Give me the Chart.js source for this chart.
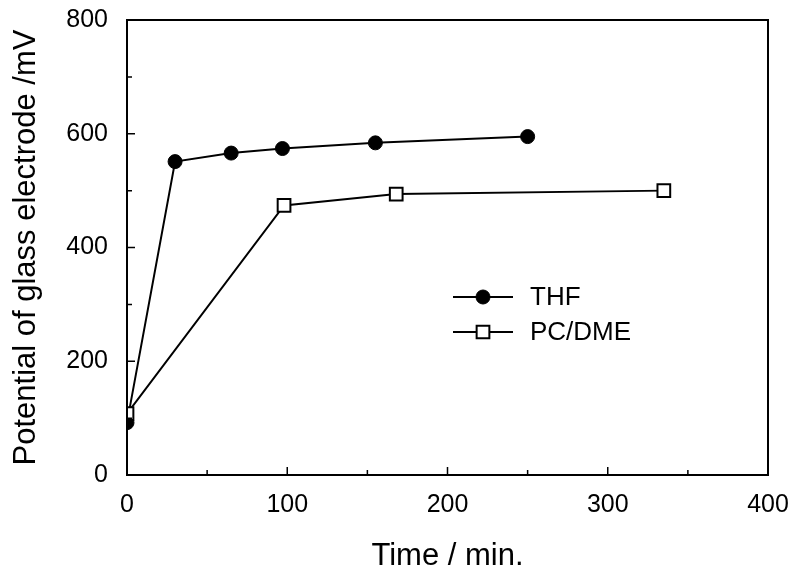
<!DOCTYPE html>
<html>
<head>
<meta charset="utf-8">
<script src="https://cdn.jsdelivr.net/npm/chart.js@4"></script>
<style>
  html, body { margin: 0; padding: 0; background: #fff; }
  #wrap { width: 799px; height: 572px; position: relative; }
</style>
</head>
<body>
<div id="wrap"><canvas id="chart"></canvas></div>
<script>
// Data
const thfTime = [0, 30, 65, 97, 155, 250];
const thfPotential = [92, 551, 566, 574, 584, 595];
const pcTime = [0, 98, 168, 335];
const pcPotential = [108, 474, 494, 500];

const xTicks = [0, 100, 200, 300, 400];
const yTicks = [0, 200, 400, 600, 800];

const FONT = '"Liberation Sans", Arial, Helvetica, sans-serif';

function toPoints(xs, ys) {
  return xs.map(function(x, i) { return { x: x, y: ys[i] }; });
}

// frame + inward ticks
const framePlugin = {
  id: 'frame',
  afterDraw(chart) {
    const ctx = chart.ctx;
    const a = chart.chartArea;
    const xs = chart.scales.x;
    const ys = chart.scales.y;
    ctx.save();
    ctx.strokeStyle = '#000';
    ctx.lineWidth = 2;
    ctx.strokeRect(a.left, a.top, a.right - a.left, a.bottom - a.top);
    ctx.lineWidth = 1.5;
    ctx.beginPath();
    for (let v = 50; v < 400; v += 50) {
      const px = xs.getPixelForValue(v);
      const len = v % 100 === 0 ? 8 : 5;
      ctx.moveTo(px, a.bottom);
      ctx.lineTo(px, a.bottom - len);
    }
    for (let v = 100; v < 800; v += 100) {
      const py = ys.getPixelForValue(v);
      const len = v % 200 === 0 ? 8 : 5;
      ctx.moveTo(a.left, py);
      ctx.lineTo(a.left + len, py);
    }
    ctx.stroke();
    ctx.restore();
  }
};

// legend inside the plot
const legendPlugin = {
  id: 'innerLegend',
  afterDatasetsDraw(chart) {
    const ctx = chart.ctx;
    const a = chart.chartArea;
    const x0 = a.left + 326, x1 = a.left + 386, xm = a.left + 356;
    const rows = [
      { y: a.top + 277, label: 'THF', ds: chart.data.datasets[0] },
      { y: a.top + 312, label: 'PC/DME', ds: chart.data.datasets[1] }
    ];
    ctx.save();
    rows.forEach(function(r) {
      ctx.strokeStyle = '#000';
      ctx.lineWidth = 2;
      ctx.beginPath();
      ctx.moveTo(x0, r.y);
      ctx.lineTo(x1, r.y);
      ctx.stroke();
      ctx.fillStyle = r.ds.pointBackgroundColor;
      ctx.lineWidth = r.ds.pointBorderWidth;
      Chart.helpers.drawPoint(ctx, {
        pointStyle: r.ds.pointStyle,
        radius: r.ds.pointRadius,
        borderWidth: r.ds.pointBorderWidth
      }, xm, r.y);
      ctx.fillStyle = '#000';
      ctx.font = '26px ' + FONT;
      ctx.textBaseline = 'middle';
      ctx.fillText(r.label, a.left + 403, r.y + 1);
    });
    ctx.restore();
  }
};

const ctx = document.getElementById('chart').getContext('2d');
new Chart(ctx, {
  type: 'scatter',
  data: {
    datasets: [
      {
        label: 'THF',
        data: toPoints(thfTime, thfPotential),
        showLine: true,
        borderColor: '#000',
        borderWidth: 2,
        pointStyle: 'circle',
        pointRadius: 7,
        pointBackgroundColor: '#000',
        pointBorderColor: '#000',
        pointBorderWidth: 1,
        order: 1
      },
      {
        label: 'PC/DME',
        data: toPoints(pcTime, pcPotential),
        showLine: true,
        borderColor: '#000',
        borderWidth: 2,
        pointStyle: 'rect',
        pointRadius: 9,
        pointBackgroundColor: '#fff',
        pointBorderColor: '#000',
        pointBorderWidth: 2,
        order: 0
      }
    ]
  },
  options: {
    responsive: true,
    maintainAspectRatio: false,
    animation: false,
    layout: { padding: { left: 0, top: 20, right: 31, bottom: 0 } },
    plugins: {
      legend: { display: false },
      tooltip: { enabled: false }
    },
    scales: {
      x: {
        type: 'linear',
        min: 0,
        max: 400,
        afterBuildTicks: function(scale) {
          scale.ticks = xTicks.map(function(v) { return { value: v }; });
        },
        afterFit: function(scale) {
          scale.height = 97;
          scale.paddingLeft = 0;
          scale.paddingRight = 0;
        },
        grid: { display: false, drawTicks: false },
        border: { display: false },
        ticks: {
          color: '#000',
          padding: 15,
          font: { family: FONT, size: 25 }
        },
        title: {
          display: true,
          text: 'Time / min.',
          color: '#000',
          font: { family: FONT, size: 31, lineHeight: 1 },
          padding: { top: 0, bottom: 0 }
        }
      },
      y: {
        type: 'linear',
        min: 0,
        max: 800,
        afterBuildTicks: function(scale) {
          scale.ticks = yTicks.map(function(v) { return { value: v }; });
        },
        afterFit: function(scale) {
          scale.width = 127;
          scale.paddingTop = 0;
          scale.paddingBottom = 0;
        },
        grid: { display: false, drawTicks: false },
        border: { display: false },
        ticks: {
          color: '#000',
          padding: 19,
          font: { family: FONT, size: 25 }
        },
        title: {
          display: true,
          text: 'Potential of glass electrode /mV',
          color: '#000',
          font: { family: FONT, size: 31, lineHeight: 1 },
          padding: { top: 11, bottom: 0 }
        }
      }
    }
  },
  plugins: [framePlugin, legendPlugin]
});
</script>
</body>
</html>
